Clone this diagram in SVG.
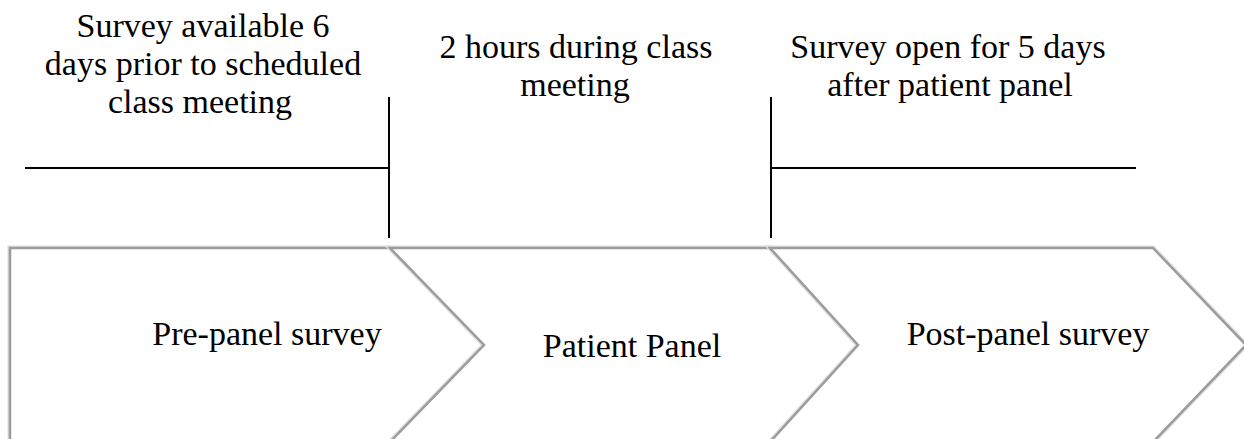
<svg xmlns="http://www.w3.org/2000/svg" width="1244" height="439" viewBox="0 0 1244 439">
  <style>
    .t { font-family: "Liberation Serif", "Times New Roman", serif; font-size: 34px; fill: #000; text-anchor: middle; }
    .chev { fill: #ffffff; stroke: #9c9c9c; stroke-width: 2.5; stroke-linejoin: miter; }
    .halo { fill: none; stroke: #dedede; stroke-width: 5; }
    .tl { stroke: #000; stroke-width: 2; fill: none; }
  </style>
  <rect width="1244" height="439" fill="#ffffff"/>

  <g id="connectors">
    <line class="tl" x1="25" y1="168" x2="389" y2="168"/>
    <line class="tl" x1="389" y1="97" x2="389" y2="238"/>
    <line class="tl" x1="771" y1="97" x2="771" y2="238"/>
    <line class="tl" x1="771" y1="168" x2="1136" y2="168"/>
  </g>

  <g id="label-pre">
    <text class="t" x="203" y="37">Survey available 6</text>
    <text class="t" x="203" y="75">days prior to scheduled</text>
    <text class="t" x="200" y="113">class meeting</text>
  </g>
  <g id="label-panel">
    <text class="t" x="576" y="58">2 hours during class</text>
    <text class="t" x="575" y="96">meeting</text>
  </g>
  <g id="label-post">
    <text class="t" x="948" y="58">Survey open for 5 days</text>
    <text class="t" x="950" y="96">after patient panel</text>
  </g>

  <g id="node-pre">
    <polygon class="halo" points="10,248 390,248 484,345 390,442 10,442"/>
    <polygon class="chev" points="10,248 390,248 484,345 390,442 10,442"/>
    <text class="t" x="267" y="345">Pre-panel survey</text>
  </g>
  <g id="node-panel">
    <polygon class="halo" points="390,248 770,248 858,345 770,442 390,442 484,345"/>
    <polygon class="chev" points="390,248 770,248 858,345 770,442 390,442 484,345"/>
    <text class="t" x="632" y="357">Patient Panel</text>
  </g>
  <g id="node-post">
    <polygon class="halo" points="770,248 1153,248 1246,345 1153,442 770,442 858,345"/>
    <polygon class="chev" points="770,248 1153,248 1246,345 1153,442 770,442 858,345"/>
    <text class="t" x="1028" y="345">Post-panel survey</text>
  </g>
</svg>
